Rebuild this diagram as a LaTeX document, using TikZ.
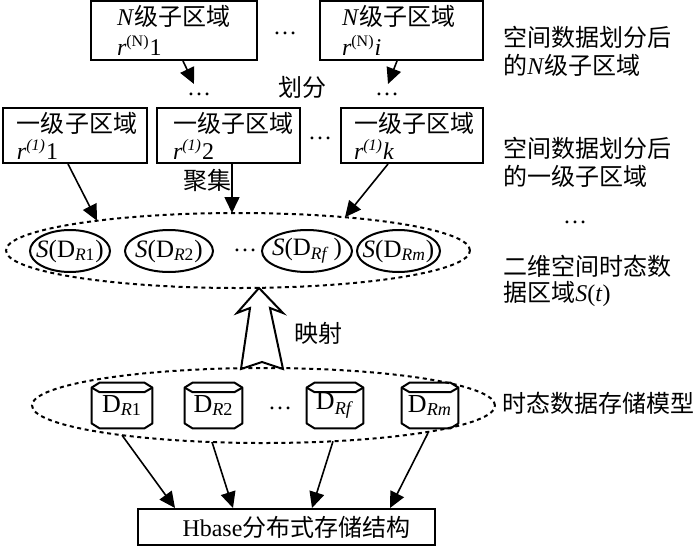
\documentclass[tikz,border=0pt]{standalone}
\usepackage{fontspec}
\setmainfont{Liberation Serif}
\newfontfamily\cjk{Noto Sans CJK SC}
\newcommand\zh[1]{{\cjk #1}}
\usetikzlibrary{shapes.geometric,arrows.meta,calc}
\newcommand\drumshape[1]{%
  \draw[drumline] ([yshift=-2.5pt]#1.north west) -- ([xshift=4pt]#1.north west) -- ([xshift=-4pt]#1.north east) -- ([yshift=-2.5pt]#1.north east) -- ([yshift=2.5pt]#1.south east) -- ([xshift=-4pt]#1.south east) -- ([xshift=4pt]#1.south west) -- ([yshift=2.5pt]#1.south west) -- cycle;
  \draw[drumline] ([yshift=-2.5pt]#1.north west) -- ([xshift=4pt,yshift=-4.8pt]#1.north west) -- ([xshift=-4pt,yshift=-4.8pt]#1.north east) -- ([yshift=-2.5pt]#1.north east);}
\newcommand\zw[1]{\makebox[0pt]{#1}}
\begin{document}
\begin{tikzpicture}[x=0.5pt,y=-0.5pt,
  font=\fontsize{12}{14}\selectfont,
  nbox/.style={draw,line width=1pt,inner xsep=0pt,inner ysep=0pt,align=left,
    minimum height=29.5pt,minimum width=#1,text width=#1,font=\fontsize{12}{15}\selectfont},
  lbox/.style={draw,line width=1pt,inner xsep=0pt,inner ysep=0pt,align=left,
    minimum height=27.5pt,minimum width=#1,text width=#1,font=\fontsize{12}{13.5}\selectfont},
  dashell/.style={ellipse,draw,line width=1pt,dash pattern=on 2pt off 1.8pt,inner sep=0pt,
    minimum width=#1,minimum height=37.5pt},
  sell/.style={ellipse,draw,line width=1pt,inner sep=0pt,minimum width=#1,minimum height=21pt,
    font=\fontsize{12.5}{15}\selectfont},
  drum/.style={inner sep=0pt,minimum width=#1,minimum height=22.5pt,font=\fontsize{13}{15}\selectfont},
  drumline/.style={line width=1pt,line join=round},
  arr/.style={line width=0.8pt,-{Triangle[length=8pt,width=7.5pt]}},
  lab/.style={anchor=west,align=left,inner sep=0pt},
  hbox/.style={draw,line width=1pt,minimum width=148.5pt,minimum height=18pt,inner sep=0pt}
]
\useasboundingbox (0,0) rectangle (700,546);

% N-level boxes
\node[nbox=83pt] (N1) at (174,30.5) {\hspace*{13pt}\textit{N}\zh{级子区域}\\\hspace*{13pt}\textit{r}\textsuperscript{(N)}1};
\node[nbox=81.5pt] (N2) at (401.5,30.5) {\hspace*{11pt}\textit{N}\zh{级子区域}\\\hspace*{11pt}\textit{r}\textsuperscript{(N)}\textit{i}};
\node (dn) at (285,33) {…};

\coordinate (t1) at (194,84);
\coordinate (t2) at (388,84);
\draw[arr] ([xshift=4.5pt]N1.south) -- (t1);
\draw[arr] ([xshift=-2.25pt]N2.south) -- (t2);
\node (d1) at (199,94) {…};
\node (d2) at (387,94) {…};
\node (hf) at (302,87) {\zh{划分}};

% level-1 boxes
\node[lbox=72pt] (A) at (75,135.5) {\hspace*{7pt}\zh{一级子区域}\\\hspace*{7pt}\textit{r}\textsuperscript{\textit{(1)}}1};
\node[lbox=71.5pt] (B) at (228.5,135.5) {\hspace*{8pt}\zh{一级子区域}\\\hspace*{8pt}\textit{r}\textsuperscript{\textit{(1)}}2};
\node[lbox=71pt] (C) at (412,135.5) {\hspace*{6.5pt}\zh{一级子区域}\\\hspace*{6.5pt}\textit{r}\textsuperscript{\textit{(1)}}\textit{k}};
\node (dl) at (320,138) {…};
\node (jj) at (207,180) {\zh{聚集}};

% upper ellipse
\node[dashell=232pt] (E1) at (238,250.5) {};
\coordinate (e1) at (97,220.7);
\coordinate (e2) at (232,213);
\coordinate (e3) at (345,217.2);
\draw[arr] ([xshift=-3.5pt]A.south) -- (e1);
\draw[arr] ([xshift=1.75pt]B.south) -- (e2);
\draw[arr] ([xshift=-12pt]C.south) -- (e3);

\node[sell=40pt] (S1) at (70,251) {\zw{\textit{S}(D\textsubscript{\textit{R}1})}};
\node[sell=44pt] (S2) at (169,251) {\zw{\textit{S}(D\textsubscript{\textit{R}2})}};
\node (ds) at (245,250) {…};
\node[sell=45pt] (S3) at (307,251) {\zw{\textit{S}(D\textsubscript{\textit{Rf}}\,)}};
\node[sell=41.5pt] (S4) at (398.5,251) {\zw{\textit{S}(D\textsubscript{\textit{Rm}})}};

% hollow arrow
\draw[line width=1pt,fill=white,line join=miter] (259,288) -- (283,313) -- (270,308) -- (283,369) -- (262,362) -- (241,369) -- (250,308) -- (237,313) -- cycle;
\node (ys) at (318,333) {\zh{映射}};

% lower ellipse
\node[dashell=231.5pt] (E2) at (263.5,405.5) {};
\node[drum=30pt] (D1) at (122,405.5) {D\textsubscript{\textit{R}1}};
\node[drum=28.5pt] (D2) at (213.5,405.5) {D\textsubscript{\textit{R}2}};
\node (dd) at (280,408) {…};
\node[drum=28pt] (D3) at (335,405.5) {D\textsubscript{\textit{Rf}}};
\node[drum=28pt] (D4) at (430,405.5) {D\textsubscript{\textit{Rm}}};
\drumshape{D1}
\drumshape{D2}
\drumshape{D3}
\drumshape{D4}

% Hbase
\node[hbox] (H) at (286.5,527) {\hspace*{10pt}Hbase\zh{分布式存储结构}};
\coordinate (l1) at (122,435.2);
\coordinate (l2) at (212,442);
\coordinate (l3) at (333,441.3);
\coordinate (l4) at (428,433);
\draw[arr] (l1) -- ([xshift=-55.75pt]H.north);
\draw[arr] (l2) -- ([xshift=-26.75pt]H.north);
\draw[arr] (l3) -- ([xshift=12.75pt]H.north);
\draw[arr] (l4) -- ([xshift=51.75pt]H.north);

% right labels
\node[lab] (L1) at (503,51) {\zh{空间数据划分后}\\\zh{的}\textit{N}\zh{级子区域}};
\node[lab] (L2) at (503,162.5) {\zh{空间数据划分后}\\\zh{的一级子区域}};
\node (dr) at (575,222) {…};
\node[lab,font=\fontsize{12}{13}\selectfont] (L3) at (503,280.5) {\zh{二维空间时态数}\\\zh{据区域}\textit{S}(\textit{t})};
\node[lab] (L4) at (502,403) {\zh{时态数据存储模型}};
\end{tikzpicture}
\end{document}
